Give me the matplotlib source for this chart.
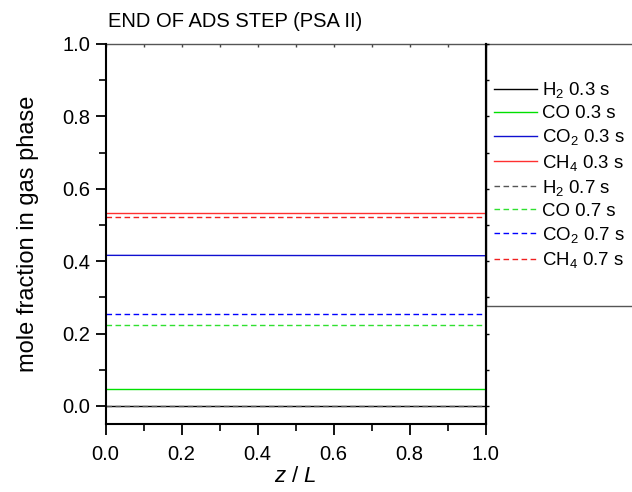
import numpy as np
import matplotlib
matplotlib.use("Agg")
import matplotlib.pyplot as plt
from matplotlib.patches import Rectangle
from matplotlib.ticker import MultipleLocator, NullFormatter

plt.rcParams['font.family'] = ['Liberation Sans', 'DejaVu Sans']
plt.rcParams['mathtext.fontset'] = 'custom'
plt.rcParams['mathtext.rm'] = 'Liberation Sans'
plt.rcParams['mathtext.it'] = 'Liberation Sans:italic'

# axial position and mole fractions at end of adsorption step
z = [0.0, 1.0]
h2_03 = [0.0, 0.0]
co_03 = [0.046, 0.046]
co2_03 = [0.416, 0.415]
ch4_03 = [0.534, 0.534]
h2_07 = [0.0, 0.0]
co_07 = [0.223, 0.223]
co2_07 = [0.253, 0.253]
ch4_07 = [0.521, 0.521]

series = [
    (h2_03, 'H$_\\mathregular{2}$ 0.3 s', 'black', '-'),
    (co_03, 'CO 0.3 s', '#00e000', '-'),
    (co2_03, 'CO$_\\mathregular{2}$ 0.3 s', '#1010d0', '-'),
    (ch4_03, 'CH$_\\mathregular{4}$ 0.3 s', '#ff3030', '-'),
    (h2_07, 'H$_\\mathregular{2}$ 0.7 s', '#555555', '--'),
    (co_07, 'CO 0.7 s', '#30e030', '--'),
    (co2_07, 'CO$_\\mathregular{2}$ 0.7 s', '#0000ff', '--'),
    (ch4_07, 'CH$_\\mathregular{4}$ 0.7 s', '#f02020', '--'),
]

fig = plt.figure(figsize=(6.32, 4.92), dpi=100)
ax = fig.add_axes([0.1672, 0.1382, 0.6013, 0.7724])

for vals, lab, col, ls in series:
    if ls == '--':
        ax.plot(z, vals, color=col, lw=1.0, label=lab, dashes=(4, 2.5))
    else:
        ax.plot(z, vals, color=col, lw=1.0, label=lab)

ax.set_xlim(0, 1)
ax.set_ylim(-0.05, 1.0)
ax.xaxis.set_major_locator(MultipleLocator(0.2))
ax.xaxis.set_minor_locator(MultipleLocator(0.1))
ax.yaxis.set_major_locator(MultipleLocator(0.2))
ax.yaxis.set_minor_locator(MultipleLocator(0.1))
ax.tick_params(axis='y', which='major', direction='out', length=7, width=1.3, labelsize=14.5, pad=4)
ax.tick_params(axis='y', which='minor', direction='out', length=5, width=1.2)
ax.tick_params(axis='x', which='major', direction='out', length=8, width=1.3, labelsize=14.5, pad=7)
ax.tick_params(axis='x', which='minor', direction='out', length=5, width=1.2)
for s in ('left', 'bottom', 'right'):
    ax.spines[s].set_linewidth(1.5)
ax.spines['top'].set_visible(False)

# top and right axes: no labels, short ticks
top = ax.secondary_xaxis('top')
top.xaxis.set_major_locator(MultipleLocator(0.1))
top.xaxis.set_major_formatter(NullFormatter())
top.tick_params(direction='in', length=2, width=1.0, colors='#444444')
top.spines['top'].set_color('#555555')
top.spines['top'].set_linewidth(1.0)
right = ax.secondary_yaxis('right')
right.yaxis.set_major_locator(MultipleLocator(0.1))
right.yaxis.set_major_formatter(NullFormatter())
right.tick_params(direction='out', length=2, width=1.0)
right.spines['right'].set_linewidth(1.5)

ax.set_xlabel('$\\it{z}$ / $\\it{L}$', fontsize=16, labelpad=1.5)
ax.set_ylabel('mole fraction in gas phase', fontsize=17, labelpad=16.5)
ax.text(0.006, 1.045, 'END OF ADS STEP (PSA II)', transform=ax.transAxes,
        fontsize=14.5, ha='left', va='baseline')

# legend box, sitting to the right of the axes and running off the figure
ax.add_patch(Rectangle((1.0, 0.311), 0.5, 0.689, transform=ax.transAxes,
                       fill=False, edgecolor='#555555', lw=1.0, clip_on=False, zorder=0))
ax.legend(loc='center left', bbox_to_anchor=(1.0, 0.655), frameon=False,
          fontsize=13.4, handlelength=2.3, handletextpad=0.27, labelspacing=0.275,
          borderaxespad=0.0, borderpad=0.45)

fig.savefig('out.png', dpi=100)
